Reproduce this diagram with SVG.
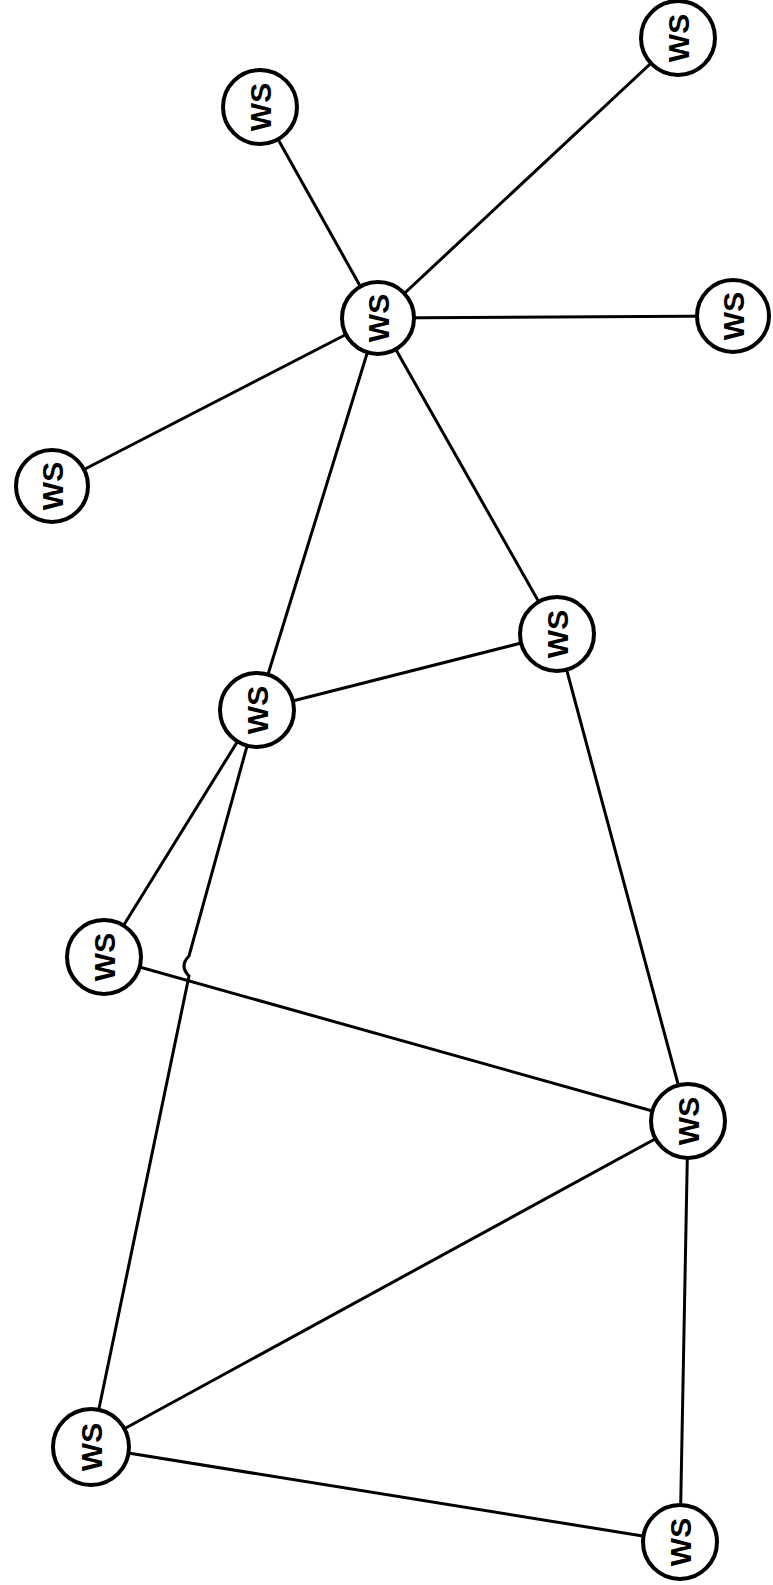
<svg xmlns="http://www.w3.org/2000/svg" width="773" height="1585" viewBox="0 0 773 1585">
<style>
.e{stroke:#000;stroke-width:3;fill:none;stroke-linecap:round}
.n circle{fill:#fff;stroke:#000;stroke-width:4}
.n text{font-family:"Liberation Sans",Arial,sans-serif;font-size:30px;font-weight:bold;fill:#000;text-anchor:middle;dominant-baseline:central}
</style>
<rect width="773" height="1585" fill="#fff"/>
<g id="connectors">
<line class="e" x1="52" y1="486" x2="378" y2="318"/>
<line class="e" x1="260" y1="107" x2="378" y2="318"/>
<line class="e" x1="378" y1="318" x2="678" y2="38"/>
<line class="e" x1="378" y1="318" x2="733" y2="316"/>
<line class="e" x1="378" y1="318" x2="557" y2="634"/>
<line class="e" x1="378" y1="318" x2="257" y2="710"/>
<line class="e" x1="557" y1="634" x2="257" y2="710"/>
<line class="e" x1="257" y1="710" x2="104" y2="957"/>
<path class="e" d="M257 710 L189 956 Q179 966 189 976 L91 1447"/>
<line class="e" x1="104" y1="957" x2="688" y2="1121"/>
<line class="e" x1="557" y1="634" x2="688" y2="1121"/>
<line class="e" x1="688" y1="1121" x2="91" y2="1447"/>
<line class="e" x1="688" y1="1121" x2="680" y2="1542"/>
<line class="e" x1="91" y1="1447" x2="680" y2="1542"/>
</g>
<g id="n1" class="n"><circle cx="52" cy="486" r="36"/><text transform="translate(52 486) rotate(-90)">WS</text></g>
<g id="n2" class="n"><circle cx="260" cy="107" r="37"/><text transform="translate(260 107) rotate(-90)">WS</text></g>
<g id="n3" class="n"><circle cx="378" cy="318" r="36"/><text transform="translate(378 318) rotate(-90)">WS</text></g>
<g id="n4" class="n"><circle cx="678" cy="38" r="37"/><text transform="translate(678 38) rotate(-90)">WS</text></g>
<g id="n5" class="n"><circle cx="733" cy="316" r="36"/><text transform="translate(733 316) rotate(-90)">WS</text></g>
<g id="n6" class="n"><circle cx="557" cy="634" r="37"/><text transform="translate(557 634) rotate(-90)">WS</text></g>
<g id="n7" class="n"><circle cx="257" cy="710" r="37"/><text transform="translate(257 710) rotate(-90)">WS</text></g>
<g id="n8" class="n"><circle cx="104" cy="957" r="37"/><text transform="translate(104 957) rotate(-90)">WS</text></g>
<g id="n9" class="n"><circle cx="688" cy="1121" r="37"/><text transform="translate(688 1121) rotate(-90)">WS</text></g>
<g id="n10" class="n"><circle cx="91" cy="1447" r="38"/><text transform="translate(91 1447) rotate(-90)">WS</text></g>
<g id="n11" class="n"><circle cx="680" cy="1542" r="37"/><text transform="translate(680 1542) rotate(-90)">WS</text></g>
</svg>
